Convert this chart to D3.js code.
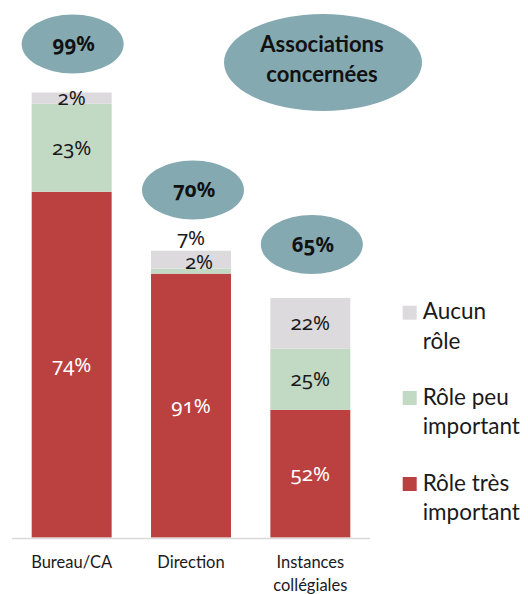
<!DOCTYPE html>
<html><head><meta charset="utf-8">
<script src="https://cdnjs.cloudflare.com/ajax/libs/d3/7.8.5/d3.min.js"></script>
<style>
html,body{margin:0;padding:0;background:#fff;overflow:hidden}
svg{display:block;font-family:Lato,"Open Sans",sans-serif}
.num{font-family:"Noto Sans",sans-serif;font-variant-numeric:oldstyle-nums;font-feature-settings:"onum" 1}
</style></head><body>
<svg id="c" width="528" height="594"></svg>
<script>
// Data
const categories = ["Bureau/CA", "Direction", "Instances collégiales"];
const series = ["Rôle très important", "Rôle peu important", "Aucun rôle"];
// plotted heights (relative units, Bureau total = 99)
const veryImportant = [76.9, 58.7, 28.4];
const littleImportant = [19.6, 1.1, 13.6];
const noRole = [2.5, 4.0, 11.3];
// percentage labels shown on the segments
const veryImportantLabels = ["74%", "91%", "52%"];
const littleImportantLabels = ["23%", "2%", "25%"];
const noRoleLabels = ["2%", "7%", "22%"];
const associations = ["99%", "70%", "65%"];
const colors = ["#bb4040", "#c2d9c3", "#dcdadd"];
const bubbleColor = "#85a9b1";

const svg = d3.select("#c");
const x = d3.scaleBand().domain(categories).range([12, 370]).paddingInner(0.33).paddingOuter(0.165);
const y = d3.scaleLinear().domain([0, 100]).range([537.5, 88]);

const rows = categories.map((c, i) => ({cat: c, v0: veryImportant[i], v1: littleImportant[i], v2: noRole[i]}));
const stack = d3.stack().keys(["v0", "v1", "v2"])(rows);

svg.append("g").selectAll("g").data(stack).join("g")
  .attr("fill", (d, i) => colors[i])
  .selectAll("rect").data(d => d).join("rect")
  .attr("x", d => x(d.data.cat))
  .attr("width", x.bandwidth())
  .attr("y", d => y(d[1]))
  .attr("height", d => y(d[0]) - y(d[1]));

// axis line
svg.append("line").attr("x1", 12).attr("x2", 370).attr("y1", 538.5).attr("y2", 538.5)
  .attr("stroke", "#d9d9d9").attr("stroke-width", 1.5);

// category labels
const catLines = [["Bureau/CA"], ["Direction"], ["Instances", "collégiales"]];
categories.forEach((c, i) => {
  const t = svg.append("text").attr("x", x(c) + x.bandwidth() / 2).attr("y", 568)
    .attr("text-anchor", "middle").attr("font-size", 16.5).attr("fill", "#1a1a1a");
  catLines[i].forEach((l, j) => t.append("tspan").attr("x", x(c) + x.bandwidth() / 2).attr("dy", j ? 23 : 0).text(l));
});

// segment labels
const cx = i => x(categories[i]) + x.bandwidth() / 2;
function lab(i, yy, txt, fill, dx) {
  svg.append("text").attr("class", "num").attr("x", cx(i) + (dx || 0)).attr("y", yy)
    .attr("text-anchor", "middle").attr("font-size", 20.5).attr("fill", fill).text(txt);
}
veryImportant.forEach((v, i) => lab(i, y(v / 2) + 7, veryImportantLabels[i], "#fff"));
littleImportant.forEach((v, i) => {
  if (i === 1) return;
  lab(i, y(veryImportant[i] + v / 2) + 7, littleImportantLabels[i], "#1a1a1a");
});
lab(1, y(veryImportant[1] + littleImportant[1] + noRole[1] / 2) + 9.5, littleImportantLabels[1], "#1a1a1a", 8);
lab(0, y(veryImportant[0] + littleImportant[0] + noRole[0] / 2) + 7, noRoleLabels[0], "#1a1a1a");
lab(1, y(veryImportant[1] + littleImportant[1] + noRole[1]) - 6, noRoleLabels[1], "#1a1a1a");
lab(2, y(veryImportant[2] + littleImportant[2] + noRole[2] / 2) + 7, noRoleLabels[2], "#1a1a1a");

// bubbles
const bubbles = [
  {cx: cx(0) + 1, cy: 44, txt: associations[0]},
  {cx: cx(1) + 2, cy: 190, txt: associations[1]},
  {cx: cx(2) + 1.5, cy: 244.5, txt: associations[2]}
];
bubbles.forEach(b => {
  svg.append("ellipse").attr("cx", b.cx).attr("cy", b.cy).attr("rx", 51).attr("ry", 29.5).attr("fill", bubbleColor);
  svg.append("text").attr("class", "num").attr("x", b.cx + 1).attr("y", b.cy + 7).attr("text-anchor", "middle")
    .attr("font-size", 20.5).attr("font-weight", "bold").attr("fill", "#111").text(b.txt);
});
svg.append("ellipse").attr("cx", 323).attr("cy", 62.5).attr("rx", 99).attr("ry", 48.5).attr("fill", bubbleColor);
const at = svg.append("text").attr("text-anchor", "middle").attr("font-size", 22).attr("font-weight", "bold").attr("fill", "#111");
at.append("tspan").attr("x", 322).attr("y", 52).text("Associations");
at.append("tspan").attr("x", 322).attr("y", 82).text("concernées");

// legend
const legendItems = [
  {c: colors[2], lines: ["Aucun", "rôle"], y: 305.7},
  {c: colors[1], lines: ["Rôle peu", "important"], y: 391},
  {c: colors[0], lines: ["Rôle très", "important"], y: 477}
];
legendItems.forEach(it => {
  svg.append("rect").attr("x", 402.7).attr("y", it.y).attr("width", 14).attr("height", 14).attr("fill", it.c);
  const t = svg.append("text").attr("font-size", 22.5).attr("fill", "#1a1a1a");
  it.lines.forEach((l, j) => t.append("tspan").attr("x", 422.7).attr("y", it.y + 13.5 + j * 29.5).text(l));
});
</script>
</body></html>
